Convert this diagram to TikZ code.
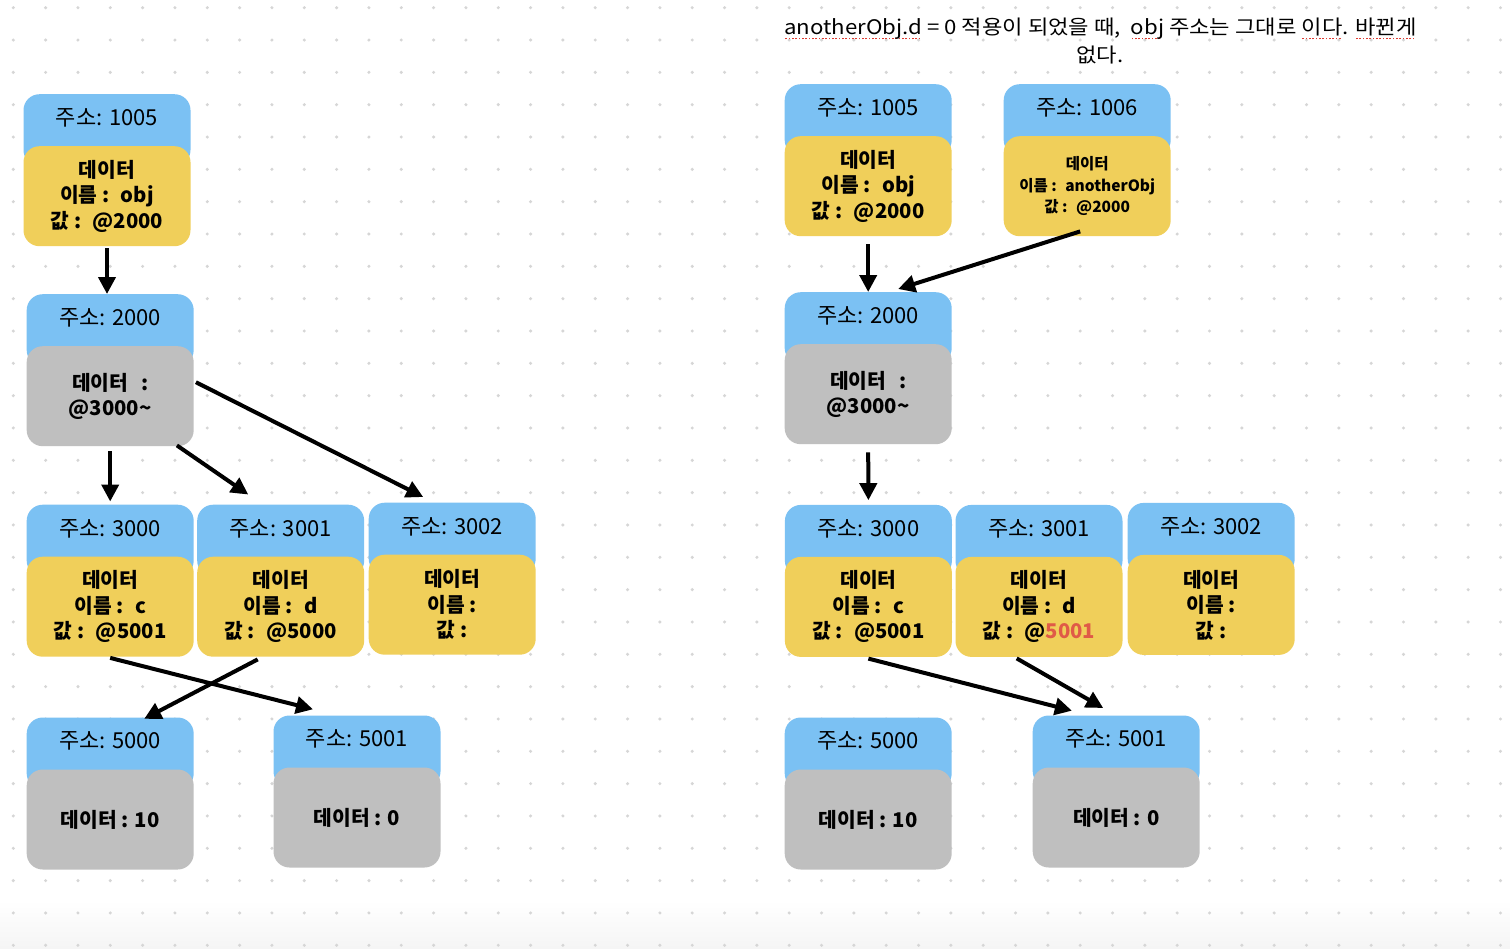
\documentclass[tikz,border=0pt]{standalone}
\usepackage{fontspec}
\setmainfont{Noto Sans CJK KR}
\usetikzlibrary{arrows.meta,calc}
\definecolor{hdrblue}{RGB}{123,193,243}
\definecolor{dyellow}{RGB}{240,207,90}
\definecolor{dgray}{RGB}{191,191,191}
\definecolor{dotgray}{RGB}{214,214,214}
\definecolor{redval}{RGB}{224,90,71}
\definecolor{sqred}{RGB}{222,60,50}
\newcommand\hdrfont{\normalfont\fontsize{22}{26}\selectfont}
\newcommand\bodyfont{\fontsize{20.3}{25.5}\selectfont\bfseries}
\newcommand\smallbody{\fontsize{15.5}{21.5}\selectfont\bfseries}
\newcommand\titlefont{\normalfont\fontsize{20}{27}\selectfont}
\newcommand\gap{\hspace{11.5pt}}
\newsavebox\sqbox
\newcommand\spell[1]{\sbox\sqbox{#1}\leavevmode\rlap{\color{sqred}\raisebox{-5pt}{\leaders\hbox to 3pt{\hss\rule{1.5pt}{1.5pt}\hss}\hskip\wd\sqbox}}\usebox\sqbox}
\tikzset{
  hdrbox/.style={fill=hdrblue, draw=none, rounded corners=16pt, minimum width=167pt, minimum height=72pt, inner sep=0pt},
  bodybox/.style={draw=none, rounded corners=16pt, minimum width=167pt, minimum height=100pt, inner sep=0pt, align=center, font=\bodyfont},
  hdrtext/.style={font=\hdrfont, inner sep=0pt},
  titletext/.style={font=\titlefont, inner sep=0pt},
  ptr/.style={line width=4pt, -{Triangle[length=17pt,width=17pt]}},
}
% #1 body style, #2 name, #3 x, #4 y, #5 fill, #6 header, #7 body
\newcommand\memcell[7][]{%
  \node[hdrbox, anchor=north west] (#2) at (#3,#4) {};
  \node[hdrtext] (#2h) at ($(#2.north)+(0,24)$) {#6};
  \node[bodybox, fill=#5, anchor=north west, #1] (#2b) at (#3,#4+52) {#7};
}
\begin{document}
\begin{tikzpicture}[x=1pt,y=-1pt]
\useasboundingbox (0,0) rectangle (1510,948);
\fill[white] (0,0) rectangle (1510,948);
\shade[top color=white, bottom color={rgb,255:red,245;green,245;blue,245}] (0,900) rectangle (1510,948);
\foreach \i in {0,...,46}{
  \foreach \j in {0,...,29}{
    \fill[dotgray] (13.3+32.33*\i, 7.7+32.33*\j) circle[radius=1.7pt];
  }
}
% title
\node[titletext] (title) at (1100.5,28.5)
  {\scalebox{1.11}[1]{\spell{anotherObj.d} = 0 적용이 되었을 때,~~\spell{obj} 주소는 그대로 \spell{이다}. \spell{바뀐게}}};
\node[titletext] (title2) at (1100,55) {\scalebox{1.11}[1]{없다.}};
% left side
\memcell{A1005}{23.3}{94}{dyellow}{주소: 1005}{데이터\\이름 :\gap obj\\값 :\gap @2000}
\memcell{B2000}{26.5}{294}{dgray}{주소: 2000}{데이터\hspace{13pt}:\\@3000\textasciitilde}
\memcell{C3000}{26.5}{504.5}{dyellow}{주소: 3000}{데이터\\이름 :\gap c\\값 :\gap @5001}
\memcell{C3001}{197}{504.5}{dyellow}{주소: 3001}{데이터\\이름 :\gap d\\값 :\gap @5000}
\memcell{C3002}{368.5}{502.5}{dyellow}{주소: 3002}{데이터\\이름 :\\값 :}
\memcell{D5000}{26.5}{717.3}{dgray}{주소: 5000}{데이터 : 10}
\memcell{D5001}{273.3}{715.3}{dgray}{주소: 5001}{데이터 : 0}
% right side
\memcell{R1005}{784.5}{84}{dyellow}{주소: 1005}{데이터\\이름 :\gap obj\\값 :\gap @2000}
\memcell[font=\smallbody]{R1006}{1003.5}{84}{dyellow}{주소: 1006}{데이터\\이름 :\hspace{8.5pt}anotherObj\\값 :\hspace{8.5pt}@2000}
\memcell{R2000}{784.5}{292}{dgray}{주소: 2000}{데이터\hspace{13pt}:\\@3000\textasciitilde}
\memcell{R3000}{784.7}{504.7}{dyellow}{주소: 3000}{데이터\\이름 :\gap c\\값 :\gap @5001}
\memcell{R3001}{955.3}{504.7}{dyellow}{주소: 3001}{데이터\\이름 :\gap d\\값 :\gap @{\color{redval}5001}}
\memcell{R3002}{1127.5}{502.7}{dyellow}{주소: 3002}{데이터\\이름 :\\값 :}
\memcell{R5000}{784.5}{717.3}{dgray}{주소: 5000}{데이터 : 10}
\memcell{R5001}{1032.5}{715.3}{dgray}{주소: 5001}{데이터 : 0}
% left arrows
\draw[ptr] ($(A1005b.south)+(0,2)$) -- (A1005b.south |- B2000.north);
\draw[ptr] ($(B2000b.south)+(0,5)$) -- ($(C3000.north)+(0,-3)$);
\draw[ptr] ($(B2000b.south east)+(-17,-1)$) -- ($(C3001.north)+(-32.5,-10)$);
\draw[ptr] ($(B2000b.east)+(2,-14)$) -- ($(C3002.north)+(-29,-5.5)$);
\draw[ptr] ($(C3000b.south)+(0,1)$) -- ($(D5001.north)+(-44,-6)$);
\draw[ptr] ($(C3001b.south)+(-23,2.5)$) -- ($(D5000.north)+(34,1.5)$);
% right arrows
\draw[ptr] ($(R1005b.south)+(0,8)$) -- (R2000.north);
\draw[ptr] ($(R1006b.south)+(-7,-5)$) -- ($(R2000.north)+(30,-3)$);
\draw[ptr] ($(R2000b.south)+(0,8)$) -- ($(R3000.north)+(0,-4.5)$);
\draw[ptr] ($(R3000b.south)+(0,1.5)$) -- ($(R5001.north)+(-44.3,-4.6)$);
\draw[ptr] ($(R3001b.south)+(-22.3,1.3)$) -- ($(R5001.north)+(-13,-7.3)$);
\end{tikzpicture}
\end{document}
